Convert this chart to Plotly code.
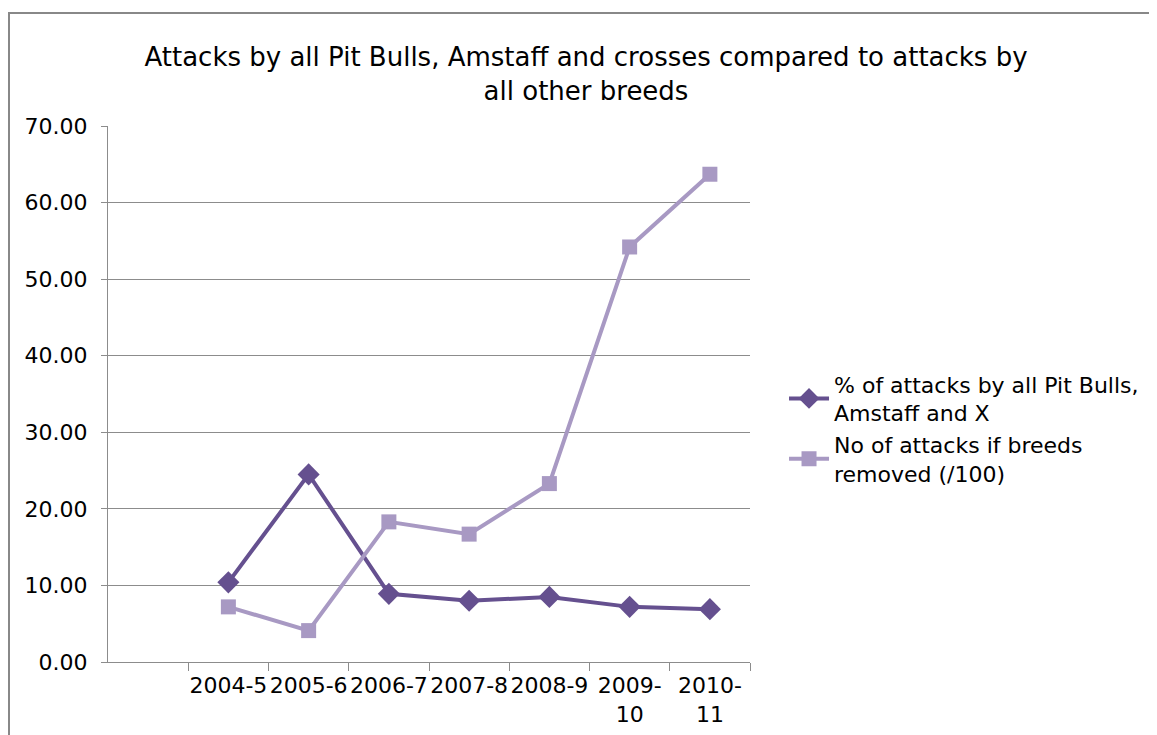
import plotly.graph_objects as go

categories = ["2004-5", "2005-6", "2006-7", "2007-8", "2008-9", "2009-<br>10", "2010-<br>11"]
pct_pitbull = [10.4, 24.5, 8.9, 8.0, 8.5, 7.2, 6.9]
attacks_removed = [7.2, 4.1, 18.3, 16.7, 23.3, 54.2, 63.7]
y_ticks = [0, 10, 20, 30, 40, 50, 60, 70]

title_text = "Attacks by all Pit Bulls, Amstaff and crosses compared to attacks by<br>all other breeds"
name1 = "% of attacks by all Pit Bulls,<br>Amstaff and X"
name2 = "No of attacks if breeds<br>removed (/100)"

# page body has an 8px margin; figure coords are offset by it
OFF = 8
W, H = 1157 - OFF, 735 - OFF
L, T = 108 - OFF, 126 - OFF
R = W - (750 - OFF)
B = H - (662 - OFF)
pw, ph = W - L - R, H - T - B

font_family = "DejaVu Sans, Liberation Sans, Arial, sans-serif"

fig = go.Figure()
fig.add_trace(go.Scatter(
    x=categories, y=pct_pitbull, name=name1, mode="lines+markers",
    line=dict(color="#65508F", width=4),
    marker=dict(symbol="diamond", size=17, color="#65508F"),
))
fig.add_trace(go.Scatter(
    x=categories, y=attacks_removed, name=name2, mode="lines+markers",
    line=dict(color="#A899C3", width=4),
    marker=dict(symbol="square", size=15, color="#A899C3"),
))

fig.update_layout(
    width=W, height=H,
    margin=dict(l=L, r=R, t=T, b=B, pad=0, autoexpand=False),
    paper_bgcolor="white", plot_bgcolor="white",
    font=dict(family=font_family, size=22, color="#000000"),
    title=dict(text=title_text, x=(586 - OFF) / W, xanchor="center",
               y=1 - (66 - OFF) / H, yanchor="middle",
               font=dict(size=26, family=font_family, color="#000000")),
    showlegend=True,
    legend=dict(x=1.053, xanchor="left", y=0.435, yanchor="middle",
                font=dict(size=22, family=font_family), bgcolor="rgba(0,0,0,0)",
                tracegroupgap=6, itemwidth=40),
    xaxis=dict(
        type="category", categoryorder="array", categoryarray=categories,
        range=[-1.5, 6.5], showgrid=False, zeroline=False,
        showline=True, linecolor="#8c8c8c", linewidth=1,
        ticks="outside", tickson="boundaries", ticklen=8, tickcolor="#8c8c8c",
        tickfont=dict(size=22, family=font_family, color="#000000"),
        tickangle=0, automargin=False,
        ticklabelstandoff=4,
        fixedrange=True,
    ),
    yaxis=dict(
        range=[0, 70], tickvals=y_ticks, tickformat=".2f",
        showgrid=True, gridcolor="#8c8c8c", gridwidth=1,
        zeroline=False, showline=True, linecolor="#8c8c8c", linewidth=1,
        ticks="outside", ticklen=6, tickcolor="#8c8c8c",
        tickfont=dict(size=22, family=font_family, color="#000000"),
        ticklabelstandoff=9, automargin=False,
        fixedrange=True,
    ),
)

# outer chart border (cut off on right/bottom as in reference)
fig.add_shape(type="rect", xref="paper", yref="paper",
              x0=(9 - 108) / pw, x1=(1170 - 108) / pw,
              y0=(662 - 750) / ph, y1=(662 - 13) / ph,
              line=dict(color="#888888", width=2), layer="below")

fig.write_html("out.html")
